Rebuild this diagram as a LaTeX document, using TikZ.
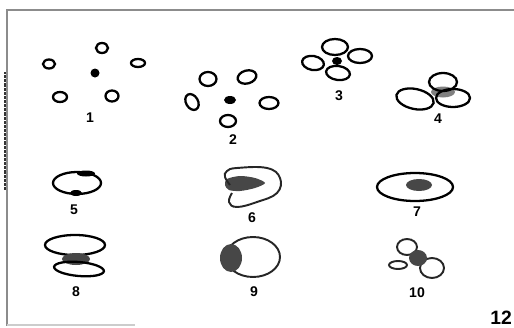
\documentclass[tikz,border=0pt]{standalone}
\usepackage{fontspec}
\setsansfont{Liberation Sans}
\usetikzlibrary{positioning}

\begin{document}
\begin{tikzpicture}[x=0.02cm, y=-0.02cm,
			loop/.style = {draw, line width=1.3pt},
			thin loop/.style = {draw, black!85, line width=1.1pt},
			dot/.style = {fill=black},
			blob/.style = {fill=black!72},
			haze/.style = {fill=black!50},
			num/.style = {font=\sffamily\bfseries\fontsize{8}{9}\selectfont,
					    inner sep=0pt}]
	\useasboundingbox (0,0) rectangle (514,328);

	% page frame
	\draw[black!45, line width=0.7pt] (514,10) -- (7,10) -- (7,326);
	\draw[black!20, line width=0.6pt] (7,325) -- (135,325);
	\draw[black!80, line width=1.4pt, dash pattern=on 0.5pt off 0.25pt] (5,72) -- (5,190);

	% 1: five rings round a dot
	\draw[loop] (102,48) ellipse (6 and 5);
	\draw[loop] (49,64) ellipse (6 and 4.5);
	\draw[loop] (138,63) ellipse (7 and 4);
	\draw[loop] (60,97) ellipse (7 and 5);
	\draw[loop] (112,96) ellipse (6.5 and 5.5);
	\fill[dot] (95,73) ellipse (4.5 and 4.5);
	\node (n1) [num] at (90,118) {1};

	% 2: rings drawn in closer
	\draw[loop] (208,79) ellipse (8.5 and 7);
	\draw[loop, rotate around={15:(247,77)}] (247,77) ellipse (9.5 and 6.5);
	\draw[loop, rotate around={30:(192,102)}] (192,102) ellipse (6 and 8.5);
	\draw[loop] (269,103) ellipse (9.5 and 6);
	\draw[loop] (228,121) ellipse (8 and 6);
	\fill[dot] (230,100) ellipse (6 and 4);
	\node (n2) [num] at (233,140) {2};

	% 3: four rings touching the dot
	\draw[loop] (335,47) ellipse (13 and 8);
	\draw[loop] (360,56) ellipse (12 and 7);
	\draw[loop, rotate around={-10:(313,63)}] (313,63) ellipse (11 and 7);
	\draw[loop, rotate around={-8:(338,73)}] (338,73) ellipse (12 and 7);
	\fill[dot] (337,61) ellipse (5 and 4);
	\node (n3) [num] at (339,96) {3};

	% 4: three loops on a grey core
	\fill[haze] (443,92) ellipse (12 and 5.5);
	\draw[loop] (443,82) ellipse (14 and 9);
	\draw[loop, rotate around={-12:(415,99)}] (415,99) ellipse (19 and 10);
	\draw[loop] (453,98) ellipse (17 and 9);
	\node (n4) [num] at (438,119) {4};

	% 5: one ring, two dark caps
	\draw[loop] (77,183) ellipse (24 and 11);
	\fill[dot] (86,173.5) ellipse (9 and 3);
	\fill[dot] (76,193) ellipse (6 and 3);
	\node (n5) [num] at (74,210) {5};

	% 6: curled loop with a wedge
	\fill[blob] plot[smooth cycle, tension=0.5] coordinates
		{(227,179) (240,176) (255,178) (265,183) (255,188) (240,191) (229,190) (225,185)};
	\draw[thin loop] plot[smooth, tension=0.7] coordinates
		{(230,185) (225,177) (227,171) (237,168) (267,168) (280,178)
		 (277,193) (257,202) (237,207) (229,202) (232,193)};
	\node (n6) [num] at (252,218) {6};

	% 7: wide ring with a core
	\draw[loop] (415,187) ellipse (38 and 14);
	\fill[blob] (419,185) ellipse (13 and 6);
	\node (n7) [num] at (417,212) {7};

	% 8: two rings with a core between
	\draw[loop] (75,245) ellipse (30 and 10);
	\fill[blob] (76,259) ellipse (14 and 6);
	\draw[loop, rotate around={-5:(79,269)}] (79,269) ellipse (25 and 7);
	\node (n8) [num] at (76,292) {8};

	% 9: ring with a side core
	\draw[thin loop] (253,257) ellipse (27 and 20);
	\fill[blob] (231,258) ellipse (11 and 14);
	\node (n9) [num] at (254,292) {9};

	% 10: three small loops on a core
	\draw[thin loop] (407,247) ellipse (10 and 8);
	\draw[thin loop] (398,265) ellipse (9 and 4);
	\draw[thin loop] (432,268) ellipse (12 and 10);
	\fill[blob] (418,258) ellipse (9 and 8);
	\node (n10) [num] at (417,293) {10};

	\node (plate) [num, font=\sffamily\bfseries\fontsize{11}{12}\selectfont] at (501,318) {12};
\end{tikzpicture}
\end{document}
